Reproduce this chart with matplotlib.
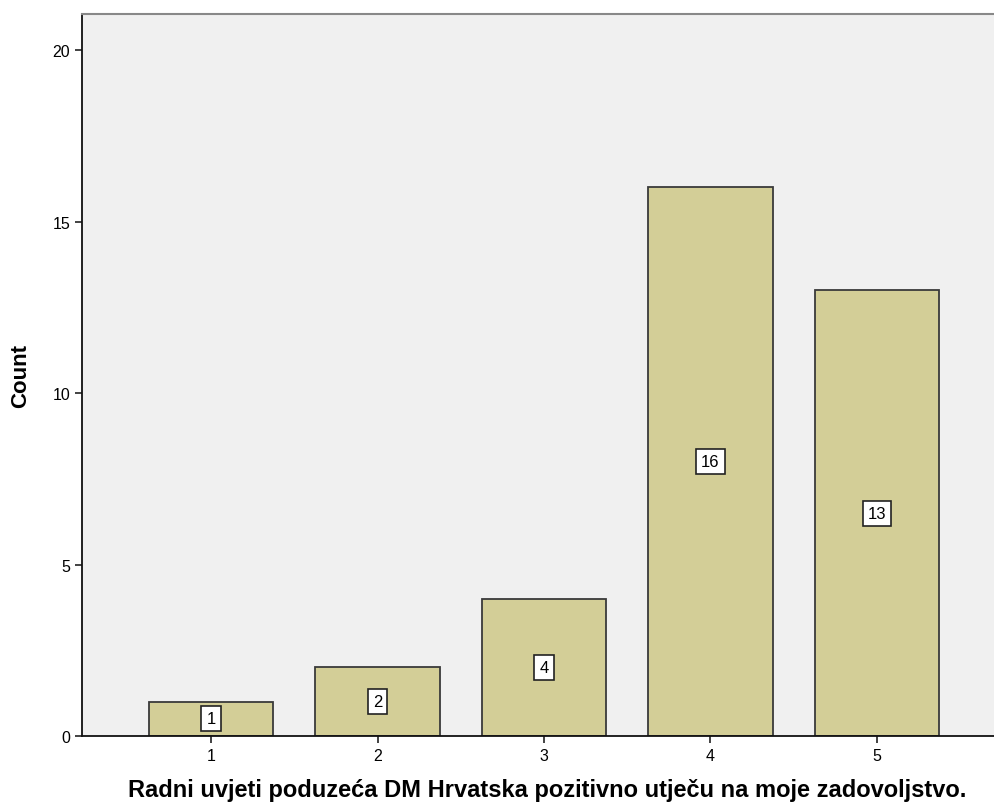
import matplotlib

matplotlib.use("Agg")
import matplotlib.pyplot as plt

categories = ["1", "2", "3", "4", "5"]
counts = [1, 2, 4, 16, 13]
y_ticks = [0, 5, 10, 15, 20]

plt.rcParams["font.family"] = ["Liberation Sans", "DejaVu Sans"]

W, H = 995, 812
fig = plt.figure(figsize=(W / 100, H / 100), dpi=100)
# axes run past the right edge, as in the cropped original
ax = fig.add_axes([82 / W, 1 - 737 / H, (1006 - 82) / W, (737 - 15) / H])
ax.set_facecolor("#F0F0F0")

x = list(range(1, len(categories) + 1))
ax.bar(x, counts, width=0.75, color="#D3CE97", edgecolor="#3A3A3A",
       linewidth=1.3, zorder=2)
for xi, c in zip(x, counts):
    ax.text(xi, c / 2, str(c), ha="center", va="center", fontsize=12,
            zorder=3,
            bbox=dict(boxstyle="square,pad=0.3", fc="white", ec="#222222",
                      lw=1.2))

ax.set_xlim(0.225, 5.775)
ax.set_ylim(0, 21.05)
ax.set_xticks(x)
ax.set_xticklabels(categories)
ax.set_yticks(y_ticks)
ax.tick_params(labelsize=11.5, length=5, width=1.2, color="#222222")

for side in ("left", "bottom"):
    ax.spines[side].set_color("#111111")
    ax.spines[side].set_linewidth(1.3)
ax.spines["top"].set_color("#888888")
ax.spines["top"].set_linewidth(1.5)
ax.spines["right"].set_visible(False)

ax_w, ax_h = 1006 - 82, 737 - 15
ax.set_ylabel("Count", fontsize=16, fontweight="bold")
ax.yaxis.set_label_coords(-(82 - 31) / ax_w, 0.5)
ax.set_xlabel("Radni uvjeti poduzeća DM Hrvatska pozitivno utječu na moje zadovoljstvo.",
              fontsize=17, fontweight="bold", va="center")
ax.xaxis.set_label_coords((547 - 82) / ax_w, -(791 - 737) / ax_h)

fig.savefig("out.png", dpi=100)
